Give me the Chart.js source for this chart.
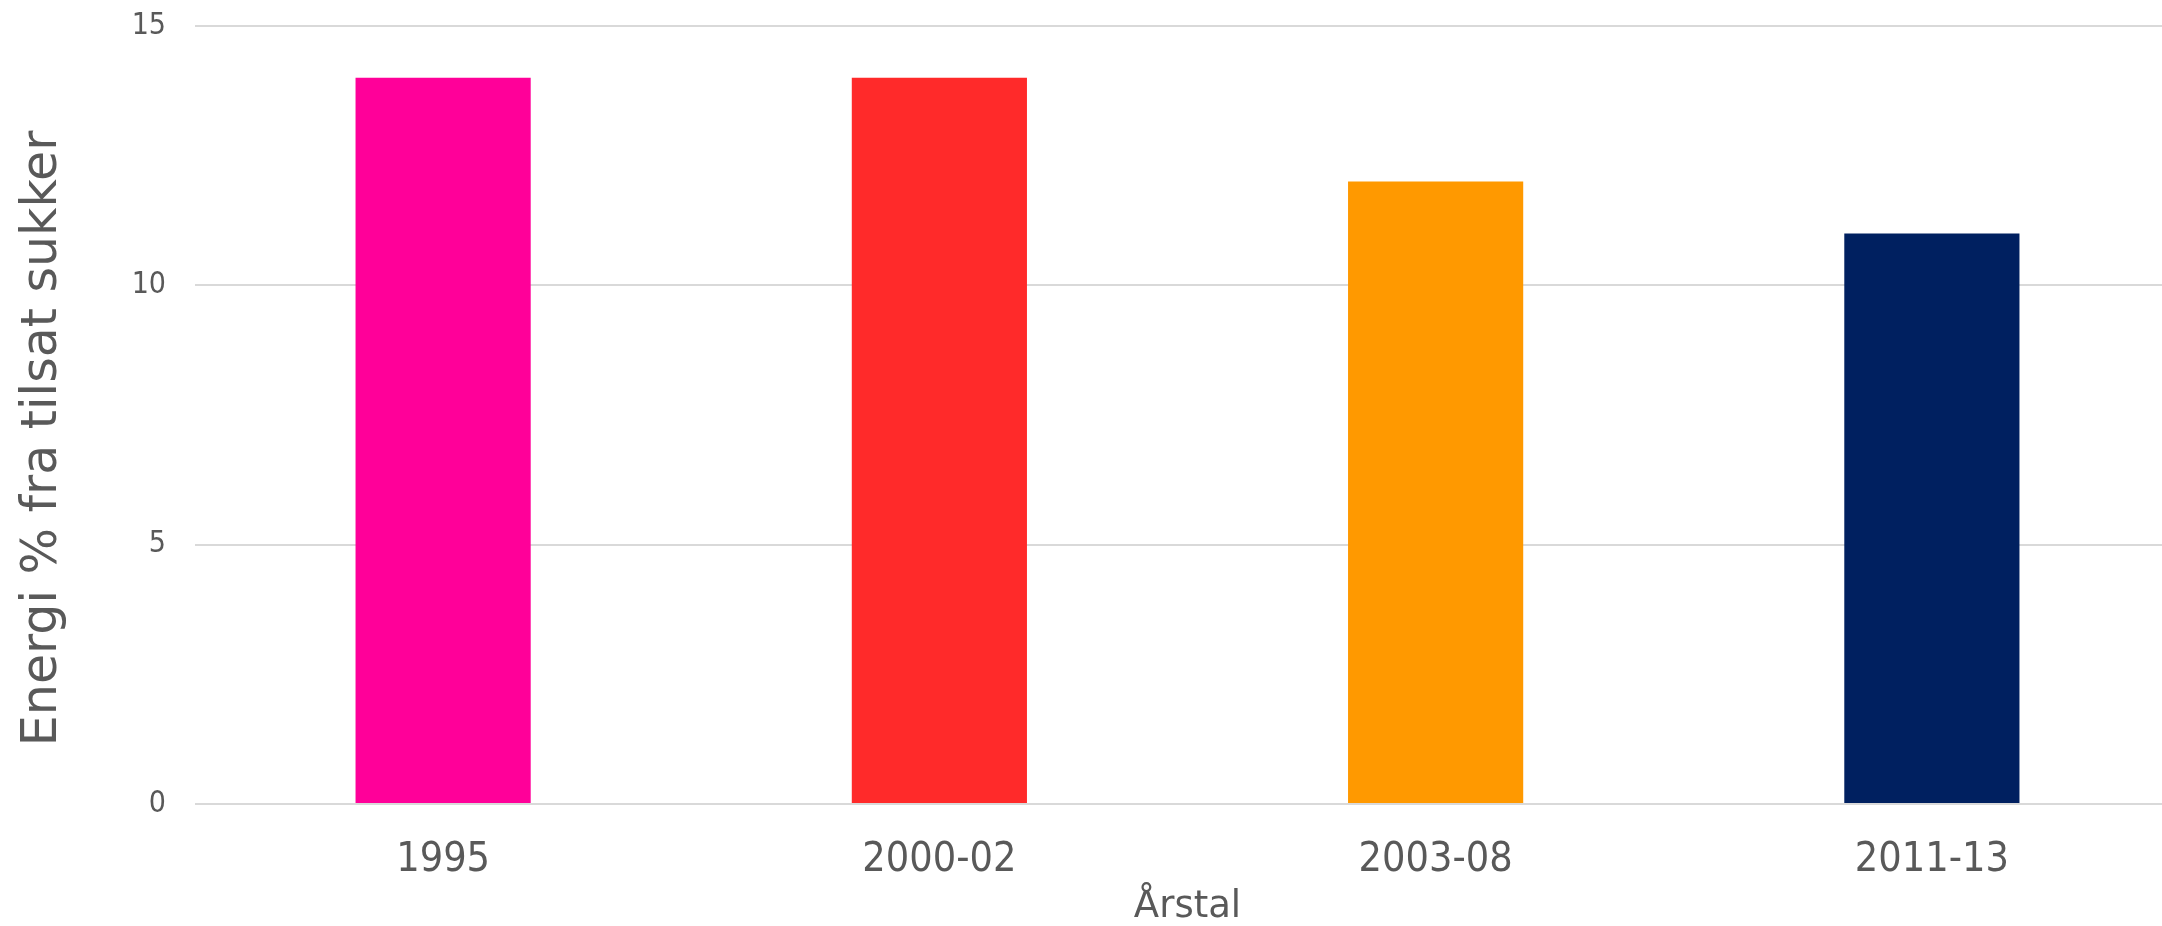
<!DOCTYPE html>
<html>
<head>
<meta charset="utf-8">
<script src="https://cdn.jsdelivr.net/npm/chart.js@4/dist/chart.umd.min.js"></script>
<style>
  html, body { margin: 0; padding: 0; background: #fff; overflow: hidden; }
  #wrap { position: absolute; left: 0; top: 0; width: 2180px; height: 926px; }
</style>
</head>
<body>
<div id="wrap"><canvas id="chart"></canvas></div>
<script>
const periods = ['1995', '2000-02', '2003-08', '2011-13']
const sugarShare = [14, 14, 12, 11]
const barColors = ['#FF0099', '#FF2A2A', '#FF9900', '#002060']
const yTicks = [0, 5, 10, 15]

const textColor = '#595959'
const narrowFont = '"DejaVu Sans Condensed", "DejaVu Sans", sans-serif'
Chart.defaults.font.family = '"DejaVu Sans", Verdana, sans-serif'
Chart.defaults.color = textColor

const ctx = document.getElementById('chart')

new Chart(ctx, {
  type: 'bar',
  data: {
    labels: periods,
    datasets: [{
      label: 'Energi % fra tilsat sukker',
      data: sugarShare,
      backgroundColor: barColors,
      borderWidth: 0,
      categoryPercentage: 1,
      barPercentage: 0.353
    }]
  },
  options: {
    responsive: true,
    maintainAspectRatio: false,
    animation: false,
    layout: {
      padding: { top: 26, left: 0, right: 0, bottom: 0 }
    },
    plugins: {
      legend: { display: false },
      tooltip: { enabled: false }
    },
    scales: {
      x: {
        grid: { display: false },
        border: { display: false },
        ticks: {
          font: { family: narrowFont, size: 41 },
          padding: 24
        },
        title: {
          display: true,
          text: 'Årstal',
          font: { size: 37, lineHeight: 1 },
          padding: { top: 0, bottom: 0 }
        },
        afterFit: (scale) => { scale.height = 122 }
      },
      y: {
        min: 0,
        max: 15,
        afterBuildTicks: (scale) => {
          scale.ticks = yTicks.map(v => ({ value: v }))
        },
        grid: {
          color: '#d9d9d9',
          lineWidth: 2,
          drawTicks: false
        },
        border: { display: false },
        ticks: {
          font: { family: narrowFont, size: 30 },
          padding: 29
        },
        title: {
          display: true,
          // trailing spaces nudge the rotated title a little towards the base
          text: 'Energi % fra tilsat sukker   ',
          font: { size: 49 },
          padding: { top: 14, bottom: 0 }
        },
        afterFit: (scale) => {
          scale.width = 195
          // plot top is set by layout padding alone
          scale.paddingTop = 0
          scale.paddingBottom = 0
        }
      }
    }
  }
})
</script>
</body>
</html>
